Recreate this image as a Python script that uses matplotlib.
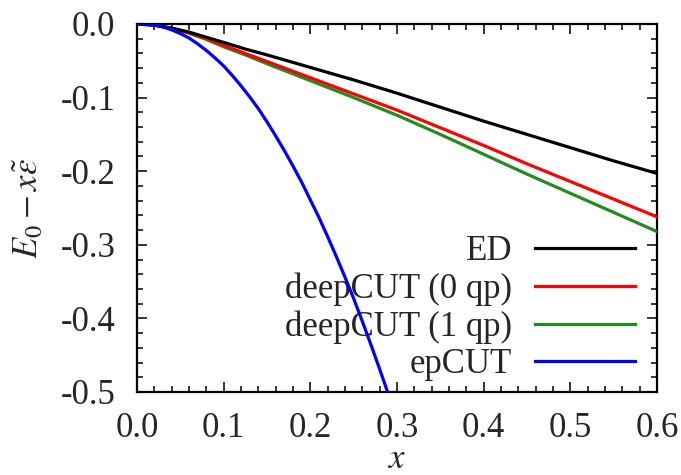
import matplotlib
matplotlib.use('Agg')
import matplotlib.pyplot as plt
from matplotlib.ticker import MultipleLocator

# ---------------- data ----------------
x_ed = [0.0, 0.02, 0.04, 0.06, 0.08, 0.10, 0.125, 0.15, 0.20, 0.25, 0.30, 0.35, 0.40, 0.45, 0.50, 0.55, 0.60]
y_ed = [0.0, -0.0015, -0.0055, -0.011, -0.018, -0.025, -0.034, -0.042, -0.059, -0.076, -0.094, -0.113, -0.132, -0.150, -0.168, -0.186, -0.203]

x_dc0 = [0.0, 0.02, 0.04, 0.06, 0.08, 0.10, 0.125, 0.15, 0.20, 0.25, 0.30, 0.35, 0.40, 0.45, 0.50, 0.55, 0.60]
y_dc0 = [0.0, -0.0015, -0.006, -0.012, -0.020, -0.029, -0.040, -0.051, -0.073, -0.095, -0.117, -0.141, -0.165, -0.190, -0.214, -0.238, -0.262]

x_dc1 = [0.0, 0.02, 0.04, 0.06, 0.08, 0.10, 0.125, 0.15, 0.20, 0.25, 0.30, 0.35, 0.40, 0.45, 0.50, 0.55, 0.60]
y_dc1 = [0.0, -0.0015, -0.006, -0.0125, -0.021, -0.031, -0.042, -0.054, -0.077, -0.100, -0.124, -0.150, -0.177, -0.204, -0.230, -0.256, -0.282]

x_ep = [0.00, 0.01, 0.02, 0.03, 0.04, 0.05, 0.06, 0.07, 0.08, 0.09,
        0.10, 0.11, 0.12, 0.13, 0.14, 0.15, 0.16, 0.17, 0.18, 0.19,
        0.20, 0.21, 0.22, 0.23, 0.24, 0.25, 0.26, 0.27, 0.28, 0.29]
y_ep = [0.0, -0.0002, -0.0012, -0.004, -0.008, -0.013, -0.019, -0.027, -0.036, -0.046,
        -0.057, -0.070, -0.084, -0.099, -0.115, -0.133, -0.152, -0.172, -0.193, -0.215,
        -0.239, -0.263, -0.289, -0.316, -0.344, -0.373, -0.404, -0.436, -0.469, -0.503]

labels = ["ED", "deepCUT (0 qp)", "deepCUT (1 qp)", "epCUT"]
colors = ["#000000", "#ff0000", "#228b22", "#0000ff"]

xticks = [0.0, 0.1, 0.2, 0.3, 0.4, 0.5, 0.6]
xtick_labels = ["0.0", "0.1", "0.2", "0.3", "0.4", "0.5", "0.6"]
yticks = [-0.5, -0.4, -0.3, -0.2, -0.1, 0.0]
ytick_labels = ["-0.5", "-0.4", "-0.3", "-0.2", "-0.1", "0.0"]

# ---------------- style ----------------
TXT = "#262626"
FS = 25
plt.rcParams['font.family'] = ['Liberation Serif', 'DejaVu Serif']
plt.rcParams['mathtext.fontset'] = 'stix'
plt.rcParams['axes.unicode_minus'] = False

fig = plt.figure(figsize=(6.81, 4.75), dpi=100)
W, H = 681, 475
ax = fig.add_axes([137 / W, 1 - 392 / H, 520 / W, 368 / H])

lw = 2.3
l_dc1, = ax.plot(x_dc1, y_dc1, color=colors[2], lw=lw, zorder=3)
l_dc0, = ax.plot(x_dc0, y_dc0, color=colors[1], lw=lw, zorder=4)
l_ed, = ax.plot(x_ed, y_ed, color=colors[0], lw=lw, zorder=5)
l_ep, = ax.plot(x_ep, y_ep, color=colors[3], lw=lw, zorder=6)

ax.set_xlim(0.0, 0.6)
ax.set_ylim(-0.5, 0.0)
ax.set_xticks(xticks)
ax.set_xticklabels(xtick_labels)
ax.set_yticks(yticks)
ax.set_yticklabels(ytick_labels)
ax.xaxis.set_minor_locator(MultipleLocator(0.02))
ax.yaxis.set_minor_locator(MultipleLocator(0.02))
ax.tick_params(which='both', direction='in', top=True, right=True,
               width=1.1, color='black')
ax.tick_params(which='major', length=7.5)
ax.tick_params(which='minor', length=4)
ax.tick_params(axis='x', which='major', pad=14.5, labelsize=FS, labelcolor=TXT)
ax.tick_params(axis='y', which='major', pad=15.5, labelsize=FS, labelcolor=TXT)
for s in ax.spines.values():
    s.set_linewidth(1.6)

ax.set_xlabel(r'$x$', fontsize=FS, color=TXT, va='center')
ax.xaxis.set_label_coords(0.5, -(459 - 392) / 368)
ax.set_ylabel(r'$E_0 - x\tilde{\epsilon}$', fontsize=FS, color=TXT, va='center')
ax.yaxis.set_label_coords(-(137 - 30) / 520, 0.5)

fs_px = FS * 100 / 72
leg = ax.legend([l_ed, l_dc0, l_dc1, l_ep], labels, loc='lower right',
                bbox_to_anchor=((635 - 137) / 520, 0.029),
                frameon=False, markerfirst=False,
                handlelength=100 / fs_px, handletextpad=23 / fs_px,
                labelspacing=0.13, borderpad=0, borderaxespad=0,
                fontsize=FS)
for t in leg.get_texts():
    t.set_color(TXT)
for col in leg._legend_handle_box.get_children():
    col.align = 'right'
leg.set_zorder(1)

fig.savefig('out.png', dpi=100)
